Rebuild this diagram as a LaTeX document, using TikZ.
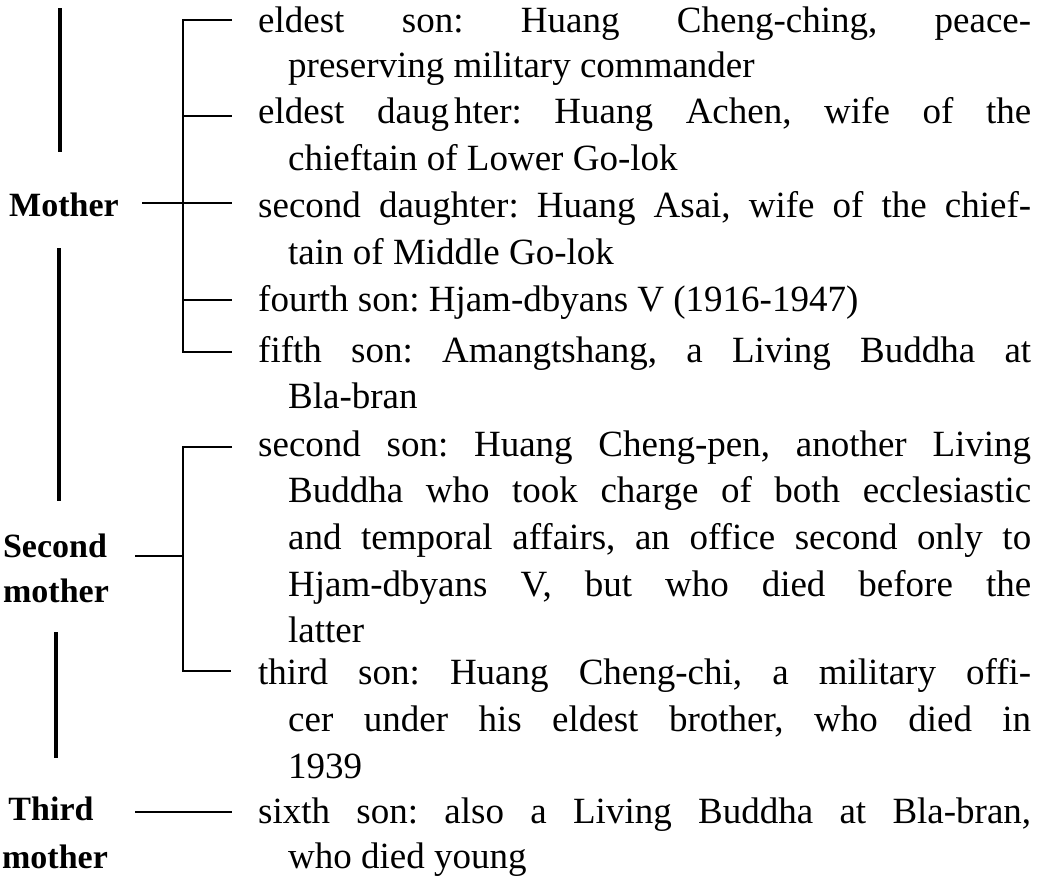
\documentclass[tikz,border=0pt]{standalone}
\usepackage{fontspec}
\setmainfont{Liberation Serif}
\frenchspacing
\newcommand\fullA[1]{\makebox[773pt][s]{#1}}
\newcommand\fullB[1]{\makebox[743pt][s]{#1}}
\begin{document}
\begin{tikzpicture}[x=1pt,y=-1pt,
  txt/.style={inner sep=0pt, anchor=base west, font=\fontsize{37}{46}\selectfont},
  lab/.style={inner sep=0pt, anchor=base, font=\fontsize{34}{46}\selectfont\bfseries},
  conn/.style={line width=2pt},
  stem/.style={line width=3.5pt}]
\useasboundingbox (0,0) rectangle (1044,879);
% text lines
\node[txt] (l0)  at (258,32)  {\fullA{eldest son: Huang Cheng-ching, peace-}};
\node[txt] (l1)  at (288,77)  {preserving military commander};
\node[txt] (l2)  at (258,123) {\fullA{eldest daug\hspace{5pt}hter: Huang Achen, wife of the}};
\node[txt] (l3)  at (288,170) {chieftain of Lower Go-lok};
\node[txt] (l4)  at (258,217) {\fullA{second daughter: Huang Asai, wife of the chief-}};
\node[txt] (l5)  at (288,264) {tain of Middle Go-lok};
\node[txt] (l6)  at (258,311) {fourth son: Hjam-dbyans V (1916-1947)};
\node[txt] (l7)  at (258,362) {\fullA{fifth son: Amangtshang, a Living Buddha at}};
\node[txt] (l8)  at (288,408) {Bla-bran};
\node[txt] (l9)  at (258,456) {\fullA{second son: Huang Cheng-pen, another Living}};
\node[txt] (l10) at (288,502) {\fullB{Buddha who took charge of both ecclesiastic}};
\node[txt] (l11) at (288,549) {\fullB{and temporal affairs, an office second only to}};
\node[txt] (l12) at (288,596) {\fullB{Hjam-dbyans V, but who died before the}};
\node[txt] (l13) at (288,642) {latter};
\node[txt] (l14) at (258,684) {\fullA{third son: Huang Cheng-chi, a military offi-}};
\node[txt] (l15) at (288,731) {\fullB{cer under his eldest brother, who died in}};
\node[txt] (l16) at (288,778) {1939};
\node[txt] (l17) at (258,823) {\fullA{sixth son: also a Living Buddha at Bla-bran,}};
\node[txt] (l18) at (288,868) {who died young};
% labels
\node[lab] (m1)  at (64,216) {Mother};
\node[lab] (m2a) at (55,557) {Second};
\node[lab] (m2b) at (56,602) {mother};
\node[lab] (m3a) at (51,820) {Third};
\node[lab] (m3b) at (55,868) {mother};
% stems between labels
\coordinate (sA1) at (60,8);   \coordinate (sA2) at (60,152);
\coordinate (sB1) at (59,248); \coordinate (sB2) at (59,501);
\coordinate (sC1) at (56,632); \coordinate (sC2) at (56,758);
\draw[stem] (sA1) -- (sA2);
\draw[stem] (sB1) -- (sB2);
\draw[stem] (sC1) -- (sC2);
% bracket 1 (Mother)
\coordinate (b1top) at (183,20);  \coordinate (b1bot) at (183,352);
\coordinate (t0) at (232,20);     \coordinate (t2) at (232,116);
\coordinate (t4) at (232,203);    \coordinate (t6) at (232,300);
\coordinate (t7) at (232,352);
\coordinate (k2) at (183,116);    \coordinate (k6) at (183,300);
\coordinate (h1) at (142,203);
\draw[conn] (t0) -- (b1top) -- (b1bot) -- (t7);
\draw[conn] (k2) -- (t2);
\draw[conn] (k6) -- (t6);
\draw[conn] (h1) -- (t4);
% bracket 2 (Second mother)
\coordinate (b2top) at (183,447); \coordinate (b2bot) at (183,671);
\coordinate (t9) at (232,447);    \coordinate (t14) at (231,671);
\coordinate (h2) at (135,556);    \coordinate (k2m) at (183,556);
\draw[conn] (t9) -- (b2top) -- (b2bot) -- (t14);
\draw[conn] (h2) -- (k2m);
% third mother
\coordinate (h3) at (135,812);    \coordinate (t17) at (232,812);
\draw[conn] (h3) -- (t17);
\end{tikzpicture}
\end{document}
